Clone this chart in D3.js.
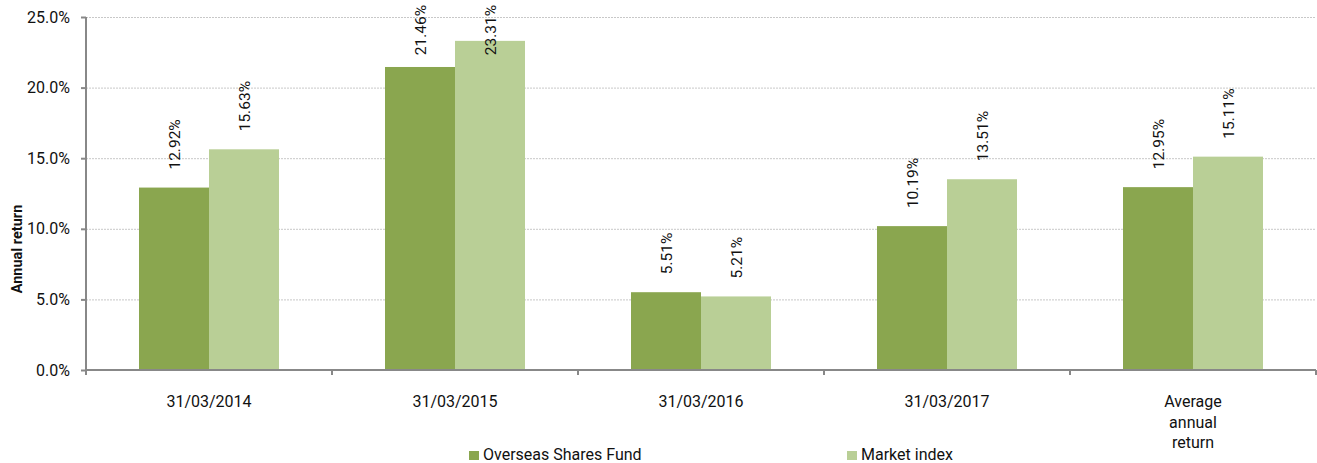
<!DOCTYPE html>
<html>
<head>
  <meta charset="utf-8">
  <script src="https://d3js.org/d3.v7.min.js"></script>
  <style type="text/css">
    * { font-family: "Roboto", "Helvetica", sans-serif }
    body { margin: 0; background: #fff; }
  </style>
</head>
<body>
<div id="my_dataviz"></div>
<script>

// data
var categories = ["31/03/2014", "31/03/2015", "31/03/2016", "31/03/2017", "Average annual return"];
var fundValues = [12.92, 21.46, 5.51, 10.19, 12.95];
var indexValues = [15.63, 23.31, 5.21, 13.51, 15.11];
var seriesNames = ["Overseas Shares Fund", "Market index"];
var yTicks = [0, 5, 10, 15, 20, 25];

var colors = ["#8aa64f", "#b9cf96"];

var margin = {top: 17, right: 1, bottom: 93, left: 86},
    width = 1317 - margin.left - margin.right,
    height = 463 - margin.top - margin.bottom;

var svg = d3.select("#my_dataviz")
  .append("svg")
    .attr("width", 1317)
    .attr("height", 463)
  .append("g")
    .attr("transform", "translate(" + margin.left + "," + margin.top + ")");

var x = d3.scaleBand()
  .domain(categories)
  .range([0, width])
  .paddingInner(0)
  .paddingOuter(0);

var xSub = d3.scaleBand()
  .domain(seriesNames)
  .range([x.bandwidth() / 2 - 70, x.bandwidth() / 2 + 70]);

var y = d3.scaleLinear()
  .domain([0, 25])
  .range([height, 0]);

// gridlines
svg.append("g")
  .selectAll("line")
  .data(yTicks.filter(d => d > 0))
  .enter()
  .append("line")
    .attr("x1", 0)
    .attr("x2", width)
    .attr("y1", d => y(d) + 0.5)
    .attr("y2", d => y(d) + 0.5)
    .attr("stroke", "#c8c8c8")
    .attr("stroke-dasharray", "2,1");

// bars
var rows = categories.map(function(c, i) {
  return {cat: c, vals: [fundValues[i], indexValues[i]]};
});

var groups = svg.selectAll(".grp")
  .data(rows)
  .enter()
  .append("g")
    .attr("class", "grp")
    .attr("transform", d => "translate(" + x(d.cat) + ",0)");

groups.selectAll("rect")
  .data(d => d.vals.map((v, j) => ({name: seriesNames[j], v: v, j: j})))
  .enter()
  .append("rect")
    .attr("x", d => xSub(d.name))
    .attr("width", xSub.bandwidth())
    .attr("y", d => y(d.v))
    .attr("height", d => height - y(d.v))
    .attr("fill", d => colors[d.j]);

// value labels, rotated; pushed down if they would run off the top
groups.selectAll(".lbl")
  .data(d => d.vals.map((v, j) => ({name: seriesNames[j], v: v, j: j})))
  .enter()
  .append("text")
    .attr("class", "lbl")
    .style("font-size", "15.5px")
    .style("fill", "#111")
    .text(d => d.v.toFixed(2) + "%")
    .attr("transform", function(d) {
      var len = this.getComputedTextLength();
      var bottom = y(d.v) - 18;
      var minTop = 5 - margin.top;
      if (bottom - len < minTop) bottom = minTop + len;
      return "translate(" + (xSub(d.name) + xSub.bandwidth() / 2 + 5.5) + "," + bottom + ") rotate(-90)";
    });

// y axis
var yAxis = svg.append("g")
  .call(d3.axisLeft(y).tickValues(yTicks).tickSize(5).tickPadding(11).tickFormat(d => d.toFixed(1) + "%"));
yAxis.select(".domain").attr("stroke", "#888").attr("stroke-width", 2).attr("d", "M0,0V" + (height + 5));
yAxis.selectAll(".tick line").attr("stroke", "#888").attr("stroke-width", 2);
yAxis.selectAll(".tick text").style("font-size", "16px").style("fill", "#111");

// x axis
var xAxis = svg.append("g")
  .attr("transform", "translate(0," + height + ")");
xAxis.append("line")
  .attr("x1", 0).attr("x2", width)
  .attr("stroke", "#888").attr("stroke-width", 2);
xAxis.selectAll(".xt")
  .data(d3.range(categories.length + 1))
  .enter()
  .append("line")
    .attr("x1", i => i * x.bandwidth())
    .attr("x2", i => i * x.bandwidth())
    .attr("y1", 0).attr("y2", 5)
    .attr("stroke", "#888").attr("stroke-width", 2);

var xLabelLines = {"Average annual return": ["Average", "annual", "return"]};
xAxis.selectAll(".xl")
  .data(categories)
  .enter()
  .append("text")
    .attr("text-anchor", "middle")
    .attr("x", d => x(d) + x.bandwidth() / 2)
    .attr("y", 37)
    .style("font-size", "16px")
    .style("fill", "#111")
    .each(function(d) {
      var lines = xLabelLines[d] || [d];
      var t = d3.select(this);
      lines.forEach(function(l, k) {
        t.append("tspan").attr("x", x(d) + x.bandwidth() / 2).attr("dy", k === 0 ? 0 : 20.7).text(l);
      });
    });

// y title
svg.append("text")
  .attr("transform", "translate(" + (22 - margin.left) + "," + (249 - margin.top) + ") rotate(-90)")
  .attr("text-anchor", "middle")
  .style("font-size", "14.5px")
  .style("font-weight", "bold")
  .style("fill", "#111")
  .text("Annual return");

// legend
var legendX = [469 - margin.left, 847 - margin.left];
var legend = svg.selectAll(".leg")
  .data(seriesNames)
  .enter()
  .append("g")
    .attr("transform", (d, i) => "translate(" + legendX[i] + "," + (451 - margin.top) + ")");
legend.append("rect")
  .attr("width", 10).attr("height", 9)
  .attr("fill", (d, i) => colors[i]);
legend.append("text")
  .attr("x", 14).attr("y", 8.6)
  .style("font-size", "16px")
  .style("fill", "#111")
  .text(d => d);

</script>
</body>
</html>
